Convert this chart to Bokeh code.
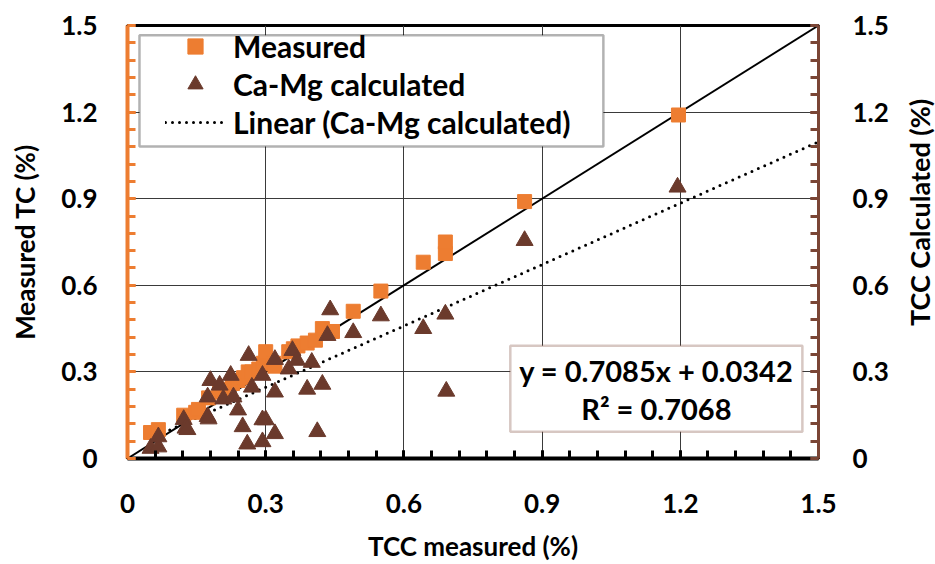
import math
from bokeh.plotting import figure
from bokeh.layouts import row
from bokeh.models import (LinearAxis, FixedTicker, CustomJSTickFormatter, Legend,
                          LegendItem, BoxAnnotation, Label, Range1d)
from bokeh.core.properties import value
from bokeh.embed import file_html
from bokeh.resources import INLINE

# ---------------- data ----------------
meas_x = [0.05, 0.067, 0.122, 0.148, 0.154, 0.176, 0.20, 0.208, 0.228, 0.24,
          0.252, 0.262, 0.27, 0.285, 0.295, 0.30, 0.317, 0.32, 0.35, 0.36,
          0.37, 0.39, 0.408, 0.423, 0.445, 0.49, 0.55, 0.642, 0.69, 0.69,
          0.862, 1.196]
meas_y = [0.09, 0.10, 0.15, 0.16, 0.17, 0.21, 0.23, 0.24, 0.26, 0.27,
          0.28, 0.30, 0.30, 0.31, 0.33, 0.37, 0.33, 0.32, 0.37, 0.38,
          0.39, 0.40, 0.41, 0.45, 0.44, 0.51, 0.58, 0.68, 0.71, 0.75,
          0.89, 1.19]

tri_x = [0.05, 0.067, 0.067, 0.122, 0.126, 0.13, 0.174, 0.176, 0.174, 0.18,
         0.20, 0.208, 0.224, 0.23, 0.24, 0.25, 0.263, 0.27, 0.26, 0.293,
         0.293, 0.30, 0.293, 0.32, 0.32, 0.32, 0.35, 0.358, 0.368, 0.39,
         0.40, 0.412, 0.423, 0.434, 0.44, 0.49, 0.55, 0.642, 0.69, 0.692,
         0.862, 1.194]
tri_y = [0.035, 0.04, 0.075, 0.135, 0.105, 0.10, 0.145, 0.137, 0.213, 0.27,
         0.254, 0.206, 0.288, 0.213, 0.168, 0.11, 0.357, 0.247, 0.05, 0.288,
         0.134, 0.134, 0.058, 0.343, 0.23, 0.086, 0.31, 0.374, 0.34, 0.24,
         0.333, 0.093, 0.257, 0.426, 0.515, 0.436, 0.494, 0.45, 0.50, 0.233,
         0.755, 0.94]

trend_slope = 0.7085
trend_intercept = 0.0342
eq_text = "y = 0.7085x + 0.0342"
r2_text = "R\u00b2 = 0.7068"

axis_ticks = [0, 0.3, 0.6, 0.9, 1.2, 1.5]
axis_min, axis_max = 0.0, 1.5

x_title = "TCC measured (%)"
y_title = "Measured TC (%)"
y2_title = "TCC Calculated (%)"

# ---------------- styling ----------------
ORANGE = "#ED7D31"
BROWN = "#6B3A2C"
RIGHT_BROWN = "#7A4535"
FONT = "Lato"

W_MAIN, W_TITLE, H = 903, 32, 564

p = figure(width=W_MAIN, height=H, output_backend="svg", toolbar_location=None,
           x_range=Range1d(axis_min, axis_max), y_range=Range1d(axis_min, axis_max),
           min_border_left=127, min_border_right=85, min_border_top=25,
           min_border_bottom=102, background_fill_color="white",
           border_fill_color="white")

p.outline_line_color = "black"
p.outline_line_width = 3

minor = [round(i * 0.06, 2) for i in range(26)]
fmt = CustomJSTickFormatter(code="return tick == 0 ? '0' : tick.toFixed(1);")

def style_axis(ax, color, lw):
    ax.ticker = FixedTicker(ticks=axis_ticks, minor_ticks=minor)
    ax.formatter = fmt
    ax.axis_line_color = color
    ax.axis_line_width = lw
    ax.major_tick_line_color = color
    ax.minor_tick_line_color = color
    ax.major_tick_line_width = 3
    ax.minor_tick_line_width = 3
    ax.major_tick_in = 8
    ax.major_tick_out = 0
    ax.minor_tick_in = 8
    ax.minor_tick_out = 0
    ax.major_label_text_font = FONT
    ax.major_label_text_font_style = "bold"
    ax.major_label_text_font_size = "26px"
    ax.major_label_text_color = "black"
    ax.axis_label_text_font = FONT
    ax.axis_label_text_font_style = "bold"
    ax.axis_label_text_font_size = "26px"
    ax.axis_label_text_color = "black"

xa = p.xaxis[0]
style_axis(xa, "black", 4)
xa.axis_label = x_title
xa.major_label_standoff = 35
xa.axis_label_standoff = 14

ya = p.yaxis[0]
style_axis(ya, ORANGE, 4)
ya.axis_label = y_title
ya.major_label_standoff = 30
ya.axis_label_standoff = 17

ra = LinearAxis()
style_axis(ra, RIGHT_BROWN, 3)
ra.major_label_standoff = 34
p.add_layout(ra, "right")

for g in (p.xgrid[0], p.ygrid[0]):
    g.ticker = FixedTicker(ticks=axis_ticks)
    g.grid_line_color = "#3a3a3a"
    g.grid_line_width = 1

# 1:1 line
p.line([axis_min, axis_max], [axis_min, axis_max], line_color="black", line_width=2)

# trend line (Ca-Mg calculated)
tx0 = min(tri_x)
trend = p.line([tx0, axis_max],
               [trend_slope * tx0 + trend_intercept, trend_slope * axis_max + trend_intercept],
               line_color="black", line_width=3, line_dash="0 7", line_cap="round")

sq = p.scatter(meas_x, meas_y, marker="square", size=14, fill_color=ORANGE,
               line_color=ORANGE)
tr = p.scatter(tri_x, tri_y, marker="triangle", size=17, fill_color=BROWN,
               line_color=BROWN)

# legend frame
leg_box = BoxAnnotation(left=0.026, right=1.033, bottom=1.081, top=1.466,
                        fill_color="white", fill_alpha=1.0,
                        line_color="black", line_width=2.5)
p.add_layout(leg_box)

legend = Legend(items=[LegendItem(label="Measured", renderers=[sq]),
                       LegendItem(label="Ca-Mg calculated", renderers=[tr]),
                       LegendItem(label="Linear (Ca-Mg calculated)", renderers=[trend])],
                location=(38, 317), padding=0, margin=0, spacing=0,
                glyph_width=60, glyph_height=38, label_height=38,
                label_standoff=8, border_line_alpha=0, background_fill_alpha=0,
                label_text_font=FONT, label_text_font_style="bold",
                label_text_font_size="30px", label_text_color="black")
p.add_layout(legend)

# equation box
eq_box = BoxAnnotation(left=0.831, right=1.465, bottom=0.093, top=0.391,
                       fill_color="white", fill_alpha=1.0,
                       line_color=RIGHT_BROWN, line_width=2.5)
p.add_layout(eq_box)
p.add_layout(Label(x=1.148, y=0.306, text=eq_text, text_align="center",
                   text_baseline="middle", text_font=FONT, text_font_style="bold",
                   text_font_size="29px", text_color="black"))
p.add_layout(Label(x=1.148, y=0.172, text=r2_text, text_align="center",
                   text_baseline="middle", text_font=FONT, text_font_style="bold",
                   text_font_size="29px", text_color="black"))

# ---------------- right-hand title strip (reads bottom to top) ----------------
t = figure(width=W_TITLE, height=H, output_backend="svg", toolbar_location=None,
           x_range=Range1d(0, W_TITLE), y_range=Range1d(0, H),
           x_axis_location=None, y_axis_location=None,
           min_border=0, background_fill_color="white", border_fill_color="white")
t.outline_line_color = None
t.grid.visible = False
t.text(x=[W_TITLE / 2], y=[H - (25 + 462) / 2], text=[y2_title], angle=math.pi / 2,
       text_align="center", text_baseline="middle", text_font=value(FONT),
       text_font_style="bold", text_font_size=value("27px"), text_color="black")

open("out.html", "w").write(file_html(row(p, t, spacing=0), INLINE))
